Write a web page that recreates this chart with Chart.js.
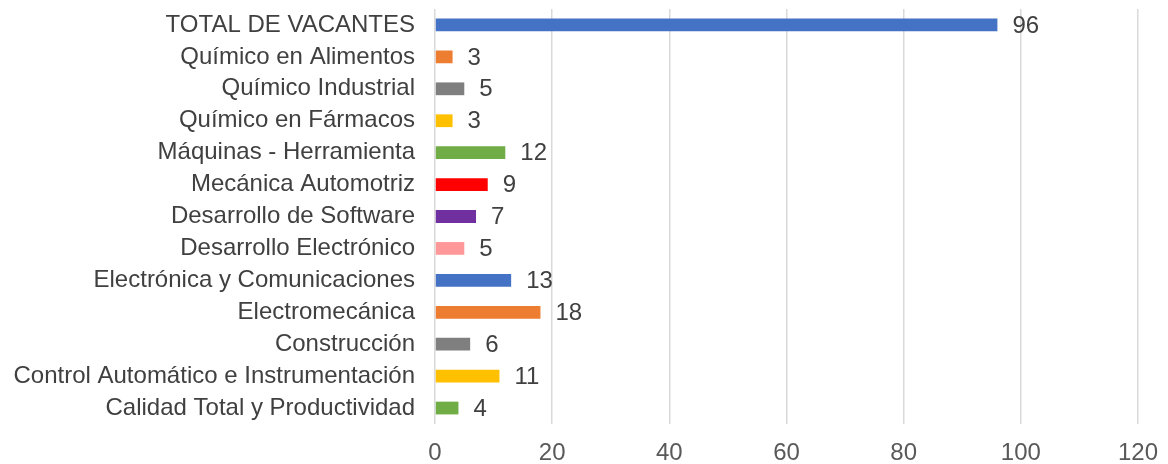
<!DOCTYPE html>
<html>
<head>
<meta charset="utf-8">
<script src="https://cdn.jsdelivr.net/npm/chart.js@4"></script>
<style>
html,body{margin:0;padding:0;background:#fff;}
#wrap{width:1168px;height:464px;}
</style>
</head>
<body>
<div id="wrap"><canvas id="c" width="1168" height="464"></canvas></div>
<script>
const categories = ["TOTAL DE VACANTES","Químico en Alimentos","Químico Industrial","Químico en Fármacos","Máquinas - Herramienta","Mecánica Automotriz","Desarrollo de Software","Desarrollo Electrónico","Electrónica y Comunicaciones","Electromecánica","Construcción","Control Automático e Instrumentación","Calidad Total y Productividad"];
const values = [96,3,5,3,12,9,7,5,13,18,6,11,4];
const barColors = ["#4472C4","#ED7D31","#7F7F7F","#FFC000","#70AD47","#FF0000","#7030A0","#FF9999","#4472C4","#ED7D31","#7F7F7F","#FFC000","#70AD47"];
const xTicks = [0,20,40,60,80,100,120];

const FONT = '"Liberation Sans", Arial, sans-serif';

const labelPlugin = {
  id:'valLabels',
  afterDatasetsDraw(chart){
    const ctx = chart.ctx;
    const meta = chart.getDatasetMeta(0);
    ctx.save();
    ctx.font = '24px ' + FONT;
    ctx.fillStyle = '#404040';
    ctx.textAlign = 'left';
    ctx.textBaseline = 'middle';
    meta.data.forEach((bar,i)=>{
      ctx.fillText(String(values[i]), bar.x + 15, bar.y + 1);
    });
    ctx.restore();
  }
};

new Chart(document.getElementById('c'),{
  type:'bar',
  data:{labels:categories,datasets:[{data:values,backgroundColor:barColors,borderWidth:0,categoryPercentage:1,barPercentage:0.4}]},
  options:{
    indexAxis:'y',
    responsive:false,
    animation:false,
    layout:{padding:{left:0,right:30,top:9,bottom:0}},
    plugins:{legend:{display:false},tooltip:{enabled:false}},
    scales:{
      x:{
        min:0,max:120,
        afterBuildTicks(s){ s.ticks = xTicks.map(v=>({value:v})); },
        afterFit(s){ s.height = 40; s.paddingLeft = 0; s.paddingRight = 0; },
        grid:{color:'#d9d9d9',lineWidth:1.5,drawTicks:false},
        border:{display:false},
        ticks:{color:'#595959',font:{size:24,family:FONT},padding:15,maxRotation:0}
      },
      y:{
        afterFit(s){ s.width = 435; s.paddingTop = 0; s.paddingBottom = 0; },
        grid:{display:false,drawTicks:false},
        border:{display:false},
        ticks:{color:'#404040',font:{size:24,family:FONT},padding:20,autoSkip:false}
      }
    }
  },
  plugins:[labelPlugin]
});
</script>
</body>
</html>
